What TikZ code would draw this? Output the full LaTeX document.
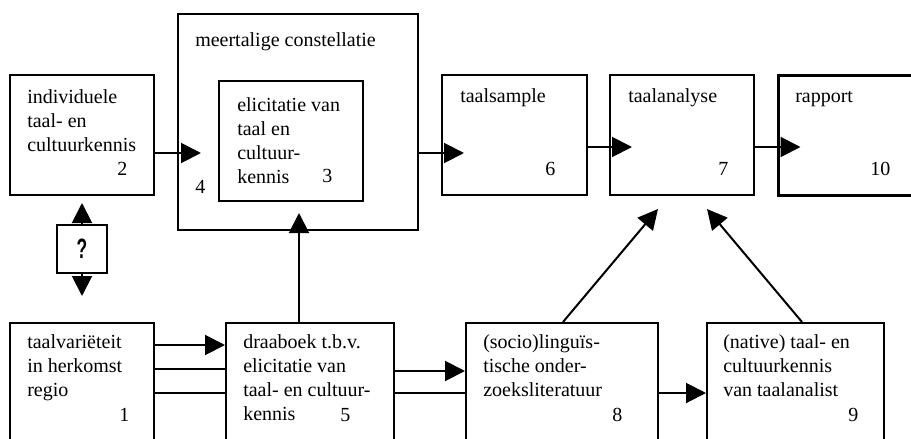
\documentclass[tikz,border=0pt]{standalone}
\usepackage{fontspec}
\setmainfont{Liberation Serif}
\newfontfamily\qfont{Liberation Sans}
\usetikzlibrary{arrows.meta,calc}
\newcommand{\mlines}[1]{\begin{tabular}[t]{@{}l@{}}#1\end{tabular}}
\begin{document}
\begin{tikzpicture}[x=0.75pt,y=-0.75pt,
  box/.style={draw,line width=1.5pt,inner sep=0pt,minimum height=90pt},
  txt/.style={anchor=base west,inner sep=0pt,font=\fontsize{15}{18}\selectfont},
  conn/.style={line width=1.5pt},
  arr/.style={conn,-{Triangle[length=15pt,width=15pt]}}]
\useasboundingbox (0,0) rectangle (911,439);
\clip (0,0) rectangle (911,439);
% boxes
\node[box,minimum width=108pt] (b2) at (82,135) {};
\node[box,minimum width=180pt,minimum height=162pt] (b4) at (298,122) {};
\node[box,minimum width=108pt] (b3) at (291,141) {};
\node[box,minimum width=108.75pt] (b6) at (514.5,135) {};
\node[box,minimum width=108pt] (b7) at (682,135) {};
\node[box,minimum width=108pt,line width=2.25pt] (b10) at (850,135) {};
\node[box,minimum width=108pt] (b1) at (82,383) {};
\node[box,minimum width=126pt] (b5) at (310,383) {};
\node[box,minimum width=144pt] (b8) at (562,383) {};
\node[box,minimum width=132.75pt] (b9) at (795.5,383) {};
\node[box,minimum width=37.5pt,minimum height=36pt] (q) at (82,249)
  {\qfont\bfseries\fontsize{21}{21}\selectfont\scalebox{0.62}[1]{?}};
% texts
\node[txt] (t2) at (27,103) {\mlines{individuele\\taal- en\\cultuurkennis}};
\node[txt] (n2) at (117,175) {2};
\node[txt] (t4) at (195,46) {meertalige constellatie};
\node[txt] (n4) at (195,193) {4};
\node[txt] (t3) at (237,111) {\mlines{elicitatie van\\taal en\\cultuur-\\kennis}};
\node[txt] (n3) at (322,182) {3};
\node[txt] (t6) at (460,102) {taalsample};
\node[txt] (n6) at (545,175) {6};
\node[txt] (t7) at (628,102) {taalanalyse};
\node[txt] (n7) at (718,175) {7};
\node[txt] (t10) at (795,102) {rapport};
\node[txt] (n10) at (870,175) {10};
\node[txt] (t1) at (27,348) {\mlines{taalvariëteit\\in herkomst\\regio}};
\node[txt] (n1) at (119,421) {1};
\node[txt] (t5) at (243,348) {\mlines{draaboek t.b.v.\\elicitatie van\\taal- en cultuur-\\kennis}};
\node[txt] (n5) at (340,421) {5};
\node[txt] (t8) at (483,348) {\mlines{(socio)linguïs-\\tische onder-\\zoeksliteratuur}};
\node[txt] (n8) at (612,421) {8};
\node[txt] (t9) at (723,348) {\mlines{(native) taal- en\\cultuurkennis\\van taalanalist}};
\node[txt] (n9) at (848,421) {9};
% connectors
\draw[arr] ($(b2.east)+(0,18)$) -- ($(b4.west)+(24,31)$);
\draw[arr] ($(b4.east)+(0,31)$) -- ($(b6.west)+(23,18)$);
\draw[arr] ($(b6.east)+(0,12)$) -- ($(b7.west)+(23,12)$);
\draw[arr] ($(b7.east)+(0,12)$) -- ($(b10.west)+(24,12)$);
\draw[arr] (q.north) -- ($(b2.south)+(0,7)$);
\draw[arr] (q.south) -- ($(b1.north)+(0,-26)$);
\draw[arr] ($(b1.east)+(0,-38)$) -- ($(b5.west)+(0,-38)$);
\draw[conn] ($(b1.east)+(0,-14)$) -- ($(b5.west)+(0,-14)$);
\draw[conn] ($(b1.east)+(0,10)$) -- ($(b5.west)+(0,10)$);
\draw[arr] ($(b5.east)+(0,-12)$) -- ($(b8.west)+(0,-12)$);
\draw[conn] ($(b5.east)+(0,10)$) -- ($(b8.west)+(0,10)$);
\draw[arr] ($(b8.east)+(0,10)$) -- ($(b9.west)+(0,10)$);
\draw[arr] ($(b5.north)+(-11,0)$) -- ($(b4.south)+(1,-18)$);
\draw[arr] ($(b8.north)+(1,0)$) -- ($(b7.south)+(-24,13)$);
\draw[arr] ($(b9.north)+(6.5,0)$) -- ($(b7.south)+(25,13)$);
\end{tikzpicture}
\end{document}
